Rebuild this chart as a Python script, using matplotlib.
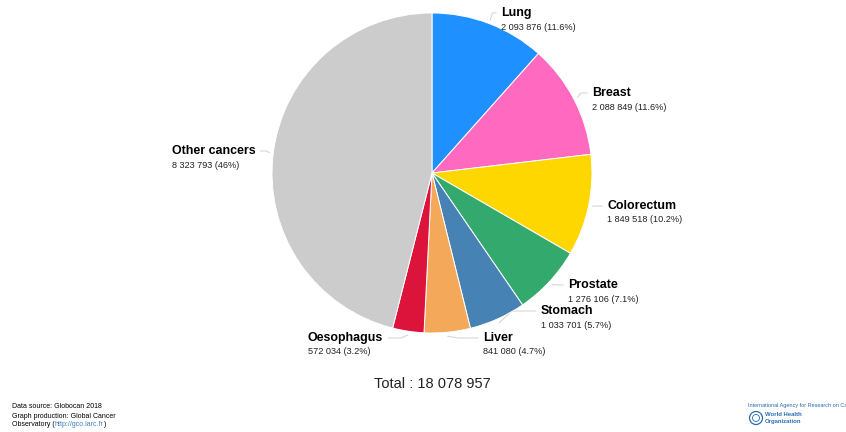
import numpy as np
import matplotlib.pyplot as plt

# Globocan 2018, new cancer cases, both sexes
sites = ['Lung', 'Breast', 'Colorectum', 'Prostate', 'Stomach', 'Liver',
         'Oesophagus', 'Other cancers']
cases = [2093876, 2088849, 1849518, 1276106, 1033701, 841080, 572034, 8323793]
pct_labels = ['11.6%', '11.6%', '10.2%', '7.1%', '5.7%', '4.7%', '3.2%', '46%']
colors = ['#1e90ff', '#ff69c0', '#ffd700', '#34a96e', '#4682b4', '#f4a85a',
          '#dc143c', '#cccccc']

W, H = 846, 432
cx, cy, R = 432, 173, 160

# label anchor (left x, y of bold line) in pixel coords
label_pos = {
    'Lung': (501, 13), 'Breast': (592, 93), 'Colorectum': (607, 206),
    'Prostate': (568, 285), 'Stomach': (541, 311), 'Liver': (483, 338),
    'Oesophagus': (308, 338), 'Other cancers': (172, 151),
}

def fmt(n):
    return f'{n:,}'.replace(',', ' ')

plt.rcParams['font.family'] = ['Liberation Sans', 'DejaVu Sans']
fig = plt.figure(figsize=(W / 100, H / 100), dpi=100)
ax = fig.add_axes([0, 0, 1, 1])

wedges, _ = ax.pie(cases, colors=colors, startangle=90, counterclock=False,
                   center=(cx, H - cy), radius=R,
                   wedgeprops=dict(edgecolor='white', linewidth=0.7))
ax.set_xlim(0, W)
ax.set_ylim(0, H)
ax.set_aspect('equal')
ax.axis('off')
renderer = fig.canvas.get_renderer()

for w, site, n, p in zip(wedges, sites, cases, pct_labels):
    lx, ly = label_pos[site]
    t = ax.text(lx, H - ly, site, fontsize=8.9, fontweight='bold',
                ha='left', va='center', color='black')
    ax.text(lx, H - ly - 14, f'{fmt(n)} ({p})', fontsize=6.6,
            ha='left', va='center', color='#222222')
    # connector from just outside the wedge toward the label
    mid = np.deg2rad((w.theta1 + w.theta2) / 2)
    x0 = cx + (R + 4) * np.cos(mid)
    y0 = (H - cy) + (R + 4) * np.sin(mid)
    if lx > cx:
        x1 = lx - 5
    else:
        x1 = t.get_window_extent(renderer).x1 + 5
    xm = x0 + (x1 - x0) * 0.35
    ax.plot([x0, xm, x1], [y0, H - ly, H - ly],
            color='#d0d0d0', lw=0.7, zorder=0)

ax.text(cx, H - 384, f'Total : {fmt(sum(cases))}', fontsize=10.5,
        ha='center', va='center', color='#222222')

# footer
fs = 5
ax.text(12, H - 407, 'Data source: Globocan 2018', fontsize=fs, va='center')
ax.text(12, H - 416, 'Graph production: Global Cancer', fontsize=fs, va='center')
t1 = ax.text(12, H - 425, 'Observatory (', fontsize=fs, va='center')
xa = t1.get_window_extent(renderer).x1
t2 = ax.text(xa, H - 425, 'http://gco.iarc.fr', fontsize=fs, va='center',
             color='#3a7fc4')
xb = t2.get_window_extent(renderer).x1
ax.text(xb, H - 425, ')', fontsize=fs, va='center')

ax.text(748, H - 405, 'International Agency for Research on Cancer',
        fontsize=4.0, va='center', color='#2a6db5')
ax.text(765, H - 415, 'World Health', fontsize=4.3, va='center',
        color='#2a6db5', fontweight='bold')
ax.text(765, H - 422, 'Organization', fontsize=4.3, va='center',
        color='#2a6db5', fontweight='bold')
ax.add_patch(plt.Circle((756, H - 418), 6.5, fill=False, ec='#2a6db5', lw=0.9))
ax.add_patch(plt.Circle((756, H - 418), 3.5, fill=False, ec='#2a6db5', lw=0.6))

fig.savefig('out.png', dpi=100)
